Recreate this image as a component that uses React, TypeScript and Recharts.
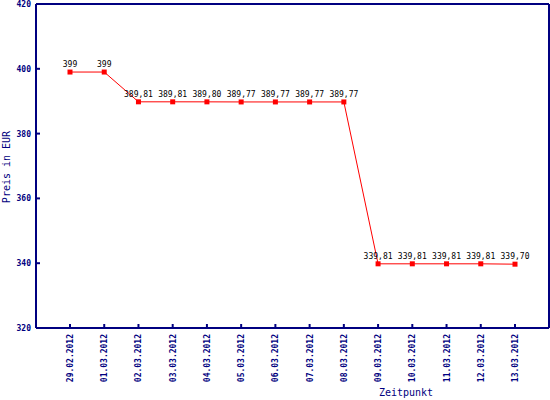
import React from 'react';
import { LineChart, Line, XAxis, YAxis, LabelList } from 'recharts';

const categories = [
  '29.02.2012', '01.03.2012', '02.03.2012', '03.03.2012', '04.03.2012',
  '05.03.2012', '06.03.2012', '07.03.2012', '08.03.2012', '09.03.2012',
  '10.03.2012', '11.03.2012', '12.03.2012', '13.03.2012',
];
const prices = [399, 399, 389.81, 389.81, 389.8, 389.77, 389.77, 389.77, 389.77, 339.81, 339.81, 339.81, 339.81, 339.7];
const yTicks = [320, 340, 360, 380, 400, 420];

const data = categories.map((c, i) => ({ date: c, price: prices[i] }));

const NAVY = '#000080';
const FONT = '"DejaVu Sans Mono", monospace';

const fmt = (v: number) => (Number.isInteger(v) ? String(v) : v.toFixed(2).replace('.', ','));

const XTick = (props: any) => {
  const { x, y, payload } = props;
  return (
    <g>
      <line x1={x} x2={x} y1={y - 6} y2={y - 10} stroke={NAVY} strokeWidth={2} />
      <text x={x} y={y} dy={3} transform={`rotate(-90 ${x} ${y})`} textAnchor="end"
        fontFamily={FONT} fontSize={8} fontWeight="bold" fill={NAVY}>
        {payload.value}
      </text>
    </g>
  );
};

const YTick = (props: any) => {
  const { x, y, payload } = props;
  return (
    <g>
      <line x1={x + 5} x2={x + 9} y1={y} y2={y} stroke={NAVY} strokeWidth={2} />
      <text x={x} y={y} dy={3} textAnchor="end"
        fontFamily={FONT} fontSize={8} fontWeight="bold" fill={NAVY}>
        {payload.value}
      </text>
    </g>
  );
};

const PointLabel = (props: any) => {
  const { x, y, value } = props;
  return (
    <text x={x} y={y - 5} textAnchor="middle" fontFamily={FONT} fontSize={8} fill="#000">
      {fmt(value)}
    </text>
  );
};

const Square = (props: any) => {
  const { cx, cy } = props;
  if (cx == null || cy == null) return null;
  return <rect x={cx - 2.5} y={cy - 2.5} width={5} height={5} fill="#ff0000" />;
};

export default function App() {
  return (
    <div style={{ position: 'absolute', left: 0, top: 0, background: '#fff' }}>
      <LineChart width={550} height={400} data={data} margin={{ top: 3, right: 0, left: 0, bottom: 0 }}>
        <XAxis
          dataKey="date"
          height={72}
          padding={{ left: 34, right: 34 }}
          axisLine={{ stroke: NAVY, strokeWidth: 2 }}
          tickLine={false}
          tickSize={0}
          tickMargin={6}
          tick={<XTick />}
          interval={0}
          label={{
            content: () => (
              <text x={406} y={396} textAnchor="middle" fontFamily={FONT} fontSize={10} fill={NAVY}>
                Zeitpunkt
              </text>
            ),
          }}
        />
        <XAxis xAxisId="top" orientation="top" dataKey="date" height={1} tick={false} tickLine={false}
          axisLine={{ stroke: NAVY, strokeWidth: 2 }} />
        <YAxis
          width={36}
          domain={[320, 420]}
          ticks={yTicks}
          interval={0}
          axisLine={{ stroke: NAVY, strokeWidth: 2 }}
          tickLine={false}
          tickSize={0}
          tickMargin={5}
          tick={<YTick />}
          label={{
            content: () => (
              <text x={10} y={167} transform="rotate(-90 10 167)" textAnchor="middle"
                fontFamily={FONT} fontSize={10} fill={NAVY}>
                Preis in EUR
              </text>
            ),
          }}
        />
        <YAxis yAxisId="right" orientation="right" width={1} tick={false} tickLine={false}
          axisLine={{ stroke: NAVY, strokeWidth: 2 }} domain={[320, 420]} />
        <Line
          type="linear"
          dataKey="price"
          stroke="#ff0000"
          strokeWidth={1}
          dot={<Square />}
          activeDot={false}
          isAnimationActive={false}
        >
          <LabelList dataKey="price" content={<PointLabel />} />
        </Line>
      </LineChart>
    </div>
  );
}
